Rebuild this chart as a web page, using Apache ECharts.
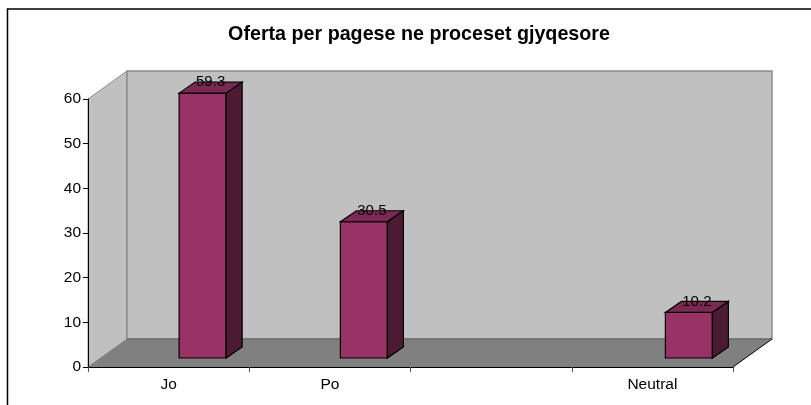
<!DOCTYPE html>
<html>
<head>
<meta charset="utf-8">
<style>
  html, body { margin: 0; padding: 0; background: #fff; }
  #chart { width: 811px; height: 405px; }
</style>
</head>
<body>
<div id="chart"></div>
<script src="https://cdn.jsdelivr.net/npm/echarts@6/dist/echarts.min.js"></script>
<script>
var categories = ['Jo', 'Po', '', 'Neutral']
var values = [59.3, 30.5, null, 10.2]
var yTicks = [0, 60]

// oblique depth of the box and where the bars stand in it
var depthX = 39
var depthY = 28
var barShiftX = 34
var barShiftY = 9
var barWidth = 47
var barDepthX = 16
var barDepthY = 11

function poly(points, fill, stroke, width) {
  return {
    type: 'polygon',
    shape: { points: points },
    style: { fill: fill, stroke: stroke || null, lineWidth: width || 0 }
  }
}

function renderBox(params, api) {
  var cs = params.coordSys
  var l = cs.x
  var r = cs.x + cs.width
  var t = cs.y
  var b = cs.y + cs.height
  return {
    type: 'group',
    children: [
      poly([[l, t], [l + depthX, t - depthY], [l + depthX, b - depthY], [l, b]], '#c0c0c0', '#8c8c8c', 1),
      poly([[l + depthX, t - depthY], [r + depthX, t - depthY], [r + depthX, b - depthY], [l + depthX, b - depthY]], '#c0c0c0', '#8c8c8c', 1.5),
      poly([[l, b], [l + depthX, b - depthY], [r + depthX, b - depthY], [r, b]], '#808080'),
      { type: 'line', shape: { x1: l + depthX, y1: b - depthY, x2: r + depthX, y2: b - depthY }, style: { stroke: '#6e6e6e', lineWidth: 1.5 }},
      { type: 'line', shape: { x1: r, y1: b, x2: r + depthX, y2: b - depthY }, style: { stroke: '#000', lineWidth: 1 }}
    ]
  }
}

function renderBar(params, api) {
  var val = api.value(1)
  var top = api.coord([api.value(0), val])
  var base = api.coord([api.value(0), 0])
  // the last bar sits a little right of its slot in the picture
  var nudge = api.value(0) === 3 ? 2.5 : 0
  var x0 = top[0] + barShiftX - barWidth / 2 + nudge
  var x1 = x0 + barWidth
  var yT = top[1] - barShiftY
  var yB = base[1] - barShiftY
  return {
    type: 'group',
    children: [
      poly([[x0, yT], [x1, yT], [x1, yB], [x0, yB]], '#993366', '#000', 1.2),
      poly([[x0, yT], [x0 + barDepthX, yT - barDepthY], [x1 + barDepthX, yT - barDepthY], [x1, yT]], '#7a2952', '#000', 1.2),
      poly([[x1, yT], [x1 + barDepthX, yT - barDepthY], [x1 + barDepthX, yB - barDepthY], [x1, yB]], '#4d1a33', '#000', 1.2),
      {
        type: 'text',
        style: {
          x: x0 + barWidth / 2 + barDepthX / 2,
          y: yT - barDepthY,
          text: String(val),
          fill: '#000',
          font: '15px "Liberation Sans", Arial, sans-serif',
          align: 'center',
          verticalAlign: 'middle'
        }
      }
    ]
  }
}

var chart = echarts.init(document.getElementById('chart'), null, { renderer: 'canvas' })
chart.setOption({
  animation: false,
  backgroundColor: '#fff',
  title: {
    text: 'Oferta per pagese ne proceset gjyqesore',
    left: 414,
    top: 20,
    textAlign: 'center',
    textStyle: {
      fontFamily: '"Liberation Sans", Arial, sans-serif',
      fontSize: 19.7,
      fontWeight: 'bold',
      color: '#000'
    }
  },
  grid: { left: 88, top: 99, width: 645, height: 268 },
  xAxis: {
    type: 'category',
    data: categories,
    z: 10,
    axisLine: { lineStyle: { color: '#000', width: 1 }},
    axisTick: { show: true, length: 5, alignWithLabel: false, lineStyle: { color: '#555' }},
    axisLabel: {
      show: true,
      interval: 0,
      color: '#000',
      margin: 10,
      fontSize: 15.5,
      fontFamily: '"Liberation Sans", Arial, sans-serif'
    }
  },
  yAxis: {
    type: 'value',
    min: yTicks[0],
    max: yTicks[1],
    interval: 10,
    z: 10,
    axisLine: { show: true, lineStyle: { color: '#000', width: 1 }},
    axisTick: { show: true, length: 5, lineStyle: { color: '#000' }},
    splitLine: { show: false },
    axisLabel: {
      color: '#000',
      margin: 7,
      padding: [2, 0, 0, 0],
      fontSize: 15.5,
      fontFamily: '"Liberation Sans", Arial, sans-serif'
    }
  },
  series: [
    {
      type: 'custom',
      silent: true,
      z: 1,
      clip: false,
      renderItem: renderBox,
      data: [[0, 0]]
    },
    {
      type: 'custom',
      z: 3,
      clip: false,
      encode: { x: 0, y: 1 },
      renderItem: renderBar,
      data: categories.map(function(c, i) {
        return values[i] === null ? null : [i, values[i]]
      }).filter(function(d) {
        return d !== null
      })
    }
  ],
  graphic: [{
    type: 'polyline',
    silent: true,
    shape: { points: [[7.5, 405], [7.5, 9], [811, 9]] },
    style: { stroke: '#000', fill: null, lineWidth: 1.5 }
  }]
})
</script>
</body>
</html>
